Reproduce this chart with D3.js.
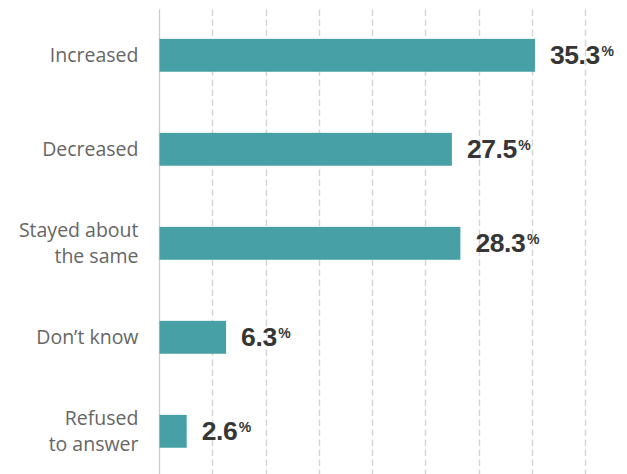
<!DOCTYPE html>
<html>
<head>
<meta charset="utf-8">
<script src="https://cdn.jsdelivr.net/npm/d3@7/dist/d3.min.js"></script>
<style>
  html, body { margin: 0; padding: 0; background: #ffffff; }
  svg { display: block; }
</style>
</head>
<body>
<svg id="chart" width="627" height="474"></svg>
<script>
// Survey responses: share of respondents per answer (%)
const categories = ["Increased", "Decreased", "Stayed about the same", "Don’t know", "Refused to answer"];
const categoryLines = [["Increased"], ["Decreased"], ["Stayed about", "the same"], ["Don’t know"], ["Refused", "to answer"]];
const values = [35.3, 27.5, 28.3, 6.3, 2.6];
const gridTicks = [0, 5, 10, 15, 20, 25, 30, 35, 40];

const W = 627, H = 474;
const plotLeft = 159, plotRight = 585, plotTop = 8.3, plotBottom = 478.3;

const svg = d3.select("#chart");

const x = d3.scaleLinear().domain([0, 40]).range([plotLeft, plotRight]);
const y = d3.scaleBand().domain(categories).range([plotTop, plotBottom])
  .paddingInner(0.65).paddingOuter(0.325);

// dashed vertical gridlines
svg.append("g").selectAll("line")
  .data(gridTicks.filter(t => t > 0))
  .join("line")
  .attr("x1", d => Math.round(x(d)) + 0.5)
  .attr("x2", d => Math.round(x(d)) + 0.5)
  .attr("y1", 9.5).attr("y2", H)
  .attr("stroke", "#d4d4d4")
  .attr("stroke-width", 1.4)
  .attr("stroke-dasharray", "6.5,3.5");

// baseline axis
svg.append("line")
  .attr("x1", x(0) + 0.5).attr("x2", x(0) + 0.5)
  .attr("y1", 9.5).attr("y2", H)
  .attr("stroke", "#cccccc")
  .attr("stroke-width", 1.3);

// bars
svg.append("g").selectAll("rect")
  .data(values)
  .join("rect")
  .attr("x", x(0) + 0.5)
  .attr("y", (d, i) => y(categories[i]))
  .attr("width", d => x(d) - x(0) - 0.5)
  .attr("height", y.bandwidth())
  .attr("fill", "#46a0a5");

// category labels
const lineH = 26;
const labels = svg.append("g")
  .attr("font-family", "'Open Sans', sans-serif")
  .attr("font-size", 19.5)
  .attr("fill", "#666666")
  .attr("text-anchor", "end");

categories.forEach((c, i) => {
  const lines = categoryLines[i];
  const cy = y(c) + y.bandwidth() / 2;
  const firstBase = cy + 7 - (lines.length - 1) * lineH / 2;
  const t = labels.append("text").attr("x", 138.5).attr("y", firstBase);
  lines.forEach((ln, j) => {
    t.append("tspan").attr("x", 138.5).attr("y", firstBase + j * lineH).text(ln);
  });
});

// value labels
const vals = svg.append("g")
  .attr("font-family", "'Liberation Sans', Arial, sans-serif")
  .attr("font-weight", "bold")
  .attr("fill", "#363636");

values.forEach((v, i) => {
  const cy = y(categories[i]) + y.bandwidth() / 2;
  const t = vals.append("text")
    .attr("x", x(v) + 15)
    .attr("y", cy + 9);
  t.append("tspan")
    .attr("font-size", 26.5)
    .attr("letter-spacing", -0.4)
    .text(d3.format(".1f")(v));
  t.append("tspan")
    .attr("font-size", 14)
    .attr("dx", 1.5)
    .attr("dy", -8.5)
    .text("%");
});
</script>
</body>
</html>
